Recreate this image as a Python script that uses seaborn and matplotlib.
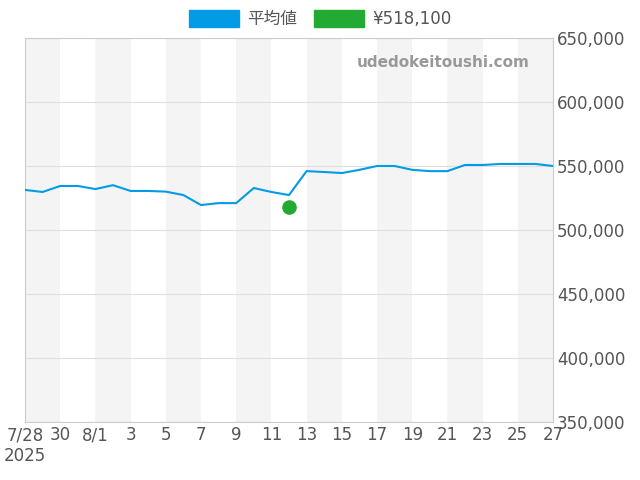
import pandas as pd
import numpy as np
import matplotlib.pyplot as plt
import matplotlib.patches as mpatches
import seaborn as sns

dates = pd.date_range("2025-07-28", "2025-08-27", freq="D")
avg_price = [531300, 529700, 534400, 534400, 532000, 535000, 530500, 530500, 530000,
             527300, 519500, 521000, 521000, 532800, 529700, 527300, 546000, 545300,
             544500, 547000, 550000, 550000, 547000, 546000, 546000, 550800, 550800,
             551600, 551600, 551600, 550000]
point_date = pd.Timestamp("2025-08-12")
point_price = 518100
tick_labels = ["7/28\n2025", "30", "8/1", "3", "5", "7", "9", "11", "13", "15",
               "17", "19", "21", "23", "25", "27"]

sns.set_style("white")
plt.rcParams['font.family'] = ['DejaVu Sans', 'Noto Sans CJK JP']

df = pd.DataFrame({"date": dates, "price": avg_price})
df["day"] = np.arange(len(df))
pt_day = (point_date - dates[0]).days

fig = plt.figure(figsize=(6.4, 4.8), dpi=100)
ax = fig.add_axes([25/640, 1 - 422/480, 528/640, 384/480])

for start in range(0, len(df) - 1, 4):
    ax.axvspan(start, start + 2, color="#f4f4f4", lw=0, zorder=0)

sns.lineplot(data=df, x="day", y="price", color="#039be5", lw=1.5, ax=ax, zorder=3)
ax.scatter([pt_day], [point_price], s=90, color="#22aa33", zorder=4)

ax.set_xlim(0, len(df) - 1)
ax.set_ylim(350000, 650000)
ax.set_xticks(range(0, len(df), 2))
ax.set_xticklabels(tick_labels, fontsize=12, color="#555555")
ax.yaxis.tick_right()
ax.set_yticks(range(350000, 650001, 50000))
ax.set_yticklabels([f"{v:,}" for v in range(350000, 650001, 50000)], fontsize=12, color="#555555")
ax.tick_params(length=0, pad=3)
ax.grid(axis="y", color="#e0e0e0", lw=0.8)
ax.set_axisbelow(True)
ax.set_xlabel("")
ax.set_ylabel("")
for s in ax.spines.values():
    s.set_color("#cccccc")

ax.text(0.955, 0.935, "udedokeitoushi.com", transform=ax.transAxes, ha="right", va="center",
        fontsize=11, fontweight="bold", color="#999999")

handles = [mpatches.Patch(color="#039be5", label="平均値"),
           mpatches.Patch(color="#22aa33", label=f"¥{point_price:,}")]
fig.legend(handles=handles, loc="upper center", bbox_to_anchor=(0.5, 1.01), ncol=2,
           frameon=False, fontsize=12, handlelength=3, handleheight=1.2, columnspacing=1.0,
           handletextpad=0.5, labelcolor="#555555")

fig.savefig("out.png", dpi=100)
